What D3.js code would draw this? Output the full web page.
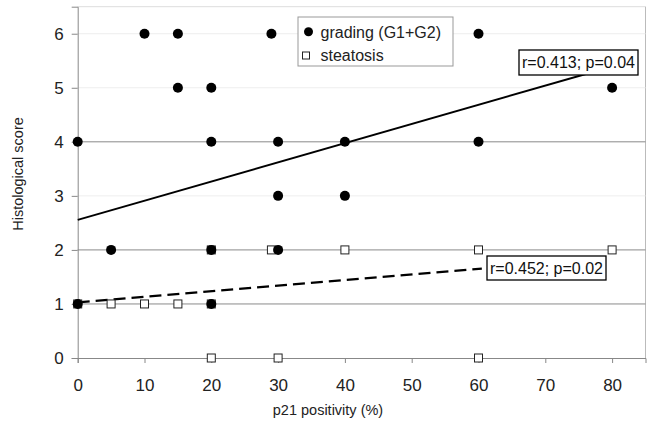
<!DOCTYPE html>
<html lang="en">
<head>
<meta charset="UTF-8">
<title>p21 vs histological score</title>
<style>
  body { margin: 0; background: #fff; }
  svg { display: block; font-family: "Liberation Sans", Arial, sans-serif; }
</style>
</head>
<body>
<svg width="649" height="425"></svg>
<script src="https://d3js.org/d3.v7.min.js"></script>
<script>
// grading (G1+G2) points
const gradingX = [0, 10, 15, 29, 60, 15, 20, 80, 20, 30, 40, 60, 30, 40, 5, 20, 30, 0, 20];
const gradingY = [4, 6, 6, 6, 6, 5, 5, 5, 4, 4, 4, 4, 3, 3, 2, 2, 2, 1, 1];
// steatosis points
const steatX = [0, 5, 10, 15, 20, 20, 29, 40, 60, 80, 20, 30, 60];
const steatY = [1, 1, 1, 1, 1, 2, 2, 2, 2, 2, 0, 0, 0];
// regression lines: [intercept, slope, xEnd]
const gradingFit = [2.555, 0.0355, 80];
const steatFit = [1.03, 0.0103, 60.5];
const xTicks = [0, 10, 20, 30, 40, 50, 60, 70, 80];
const yTicks = [0, 1, 2, 3, 4, 5, 6];
const yStrong = [0, 1, 2, 4];

const svg = d3.select("svg");
const x = d3.scaleLinear().domain([0, 85]).range([77.7, 645.5]);
const y = d3.scaleLinear().domain([0, 6.5]).range([358, 6.7]);

// frame (top/right)
svg.append("line").attr("x1", x(0)).attr("x2", x(85)).attr("y1", y(6.5)).attr("y2", y(6.5))
  .attr("stroke", "#ddd");
svg.append("line").attr("x1", x(85)).attr("x2", x(85)).attr("y1", y(6.5)).attr("y2", y(0))
  .attr("stroke", "#bbb");

// gridlines
svg.append("g").selectAll("line").data(yTicks.filter(d => d > 0)).join("line")
  .attr("x1", x(0)).attr("x2", x(85))
  .attr("y1", d => y(d)).attr("y2", d => y(d))
  .attr("stroke", d => yStrong.includes(d) ? "#8a8a8a" : "#eee")
  .attr("stroke-width", 1);

// axes
const xAxis = svg.append("g").attr("transform", `translate(0,${y(0)})`)
  .call(d3.axisBottom(x).tickValues(xTicks).tickFormat(d3.format("d")).tickSize(5).tickPadding(16));
const yAxis = svg.append("g").attr("transform", `translate(${x(0)},0)`)
  .call(d3.axisLeft(y).tickValues(yTicks).tickFormat(d3.format("d")).tickSize(6).tickPadding(8));
[xAxis, yAxis].forEach(a => {
  a.select(".domain").attr("stroke", "#888");
  a.selectAll(".tick line").attr("stroke", "#888");
  a.selectAll("text").attr("font-size", 17).attr("fill", "#222")
    .attr("font-family", "Liberation Sans, Arial, sans-serif");
});

// axis titles
svg.append("text").attr("x", 328).attr("y", 415).attr("text-anchor", "middle")
  .attr("font-size", 14.5).attr("fill", "#222").text("p21 positivity (%)");
svg.append("text").attr("transform", "translate(23,174) rotate(-90)")
  .attr("text-anchor", "middle").attr("font-size", 14.5).attr("fill", "#222")
  .text("Histological score");

// trend lines
const line = d3.line().x(d => x(d[0])).y(d => y(d[1]));
svg.append("path")
  .attr("d", line([[0, gradingFit[0]], [gradingFit[2], gradingFit[0] + gradingFit[1] * gradingFit[2]]]))
  .attr("stroke", "#000").attr("stroke-width", 2).attr("fill", "none");
svg.append("path")
  .attr("d", line([[0, steatFit[0]], [steatFit[2], steatFit[0] + steatFit[1] * steatFit[2]]]))
  .attr("stroke", "#000").attr("stroke-width", 2.2).attr("stroke-dasharray", "12,6").attr("fill", "none");

// steatosis squares
const sq = 8;
svg.append("g").selectAll("rect").data(steatX.map((d, i) => [d, steatY[i]])).join("rect")
  .attr("x", d => x(d[0]) - sq / 2).attr("y", d => y(d[1]) - sq / 2)
  .attr("width", sq).attr("height", sq)
  .attr("fill", "#fff").attr("stroke", "#222").attr("stroke-width", 1);

// grading circles
svg.append("g").selectAll("circle").data(gradingX.map((d, i) => [d, gradingY[i]])).join("circle")
  .attr("cx", d => x(d[0])).attr("cy", d => y(d[1])).attr("r", 5)
  .attr("fill", "#000");

// annotation boxes
function note(bx, by, w, h, txt) {
  svg.append("rect").attr("x", bx).attr("y", by).attr("width", w).attr("height", h)
    .attr("fill", "#fff").attr("stroke", "#000").attr("stroke-width", 1.3);
  svg.append("text").attr("x", bx + w / 2).attr("y", by + h / 2 + 5.5)
    .attr("text-anchor", "middle").attr("font-size", 16).attr("fill", "#111").text(txt);
}
note(519, 50, 119, 25, "r=0.413; p=0.04");
note(487, 256, 119, 24, "r=0.452; p=0.02");

// legend
const lg = svg.append("g");
lg.append("rect").attr("x", 298).attr("y", 17).attr("width", 155).attr("height", 49)
  .attr("fill", "#fff").attr("stroke", "#999");
lg.append("circle").attr("cx", 308.5).attr("cy", 31.7).attr("r", 4.5).attr("fill", "#000");
lg.append("text").attr("x", 320.5).attr("y", 37.5).attr("font-size", 16).attr("fill", "#222")
  .text("grading (G1+G2)");
lg.append("rect").attr("x", 302.5).attr("y", 52).attr("width", 7).attr("height", 7)
  .attr("fill", "#fff").attr("stroke", "#222");
lg.append("text").attr("x", 320.5).attr("y", 61).attr("font-size", 16).attr("fill", "#222")
  .text("steatosis");
</script>
</body>
</html>
